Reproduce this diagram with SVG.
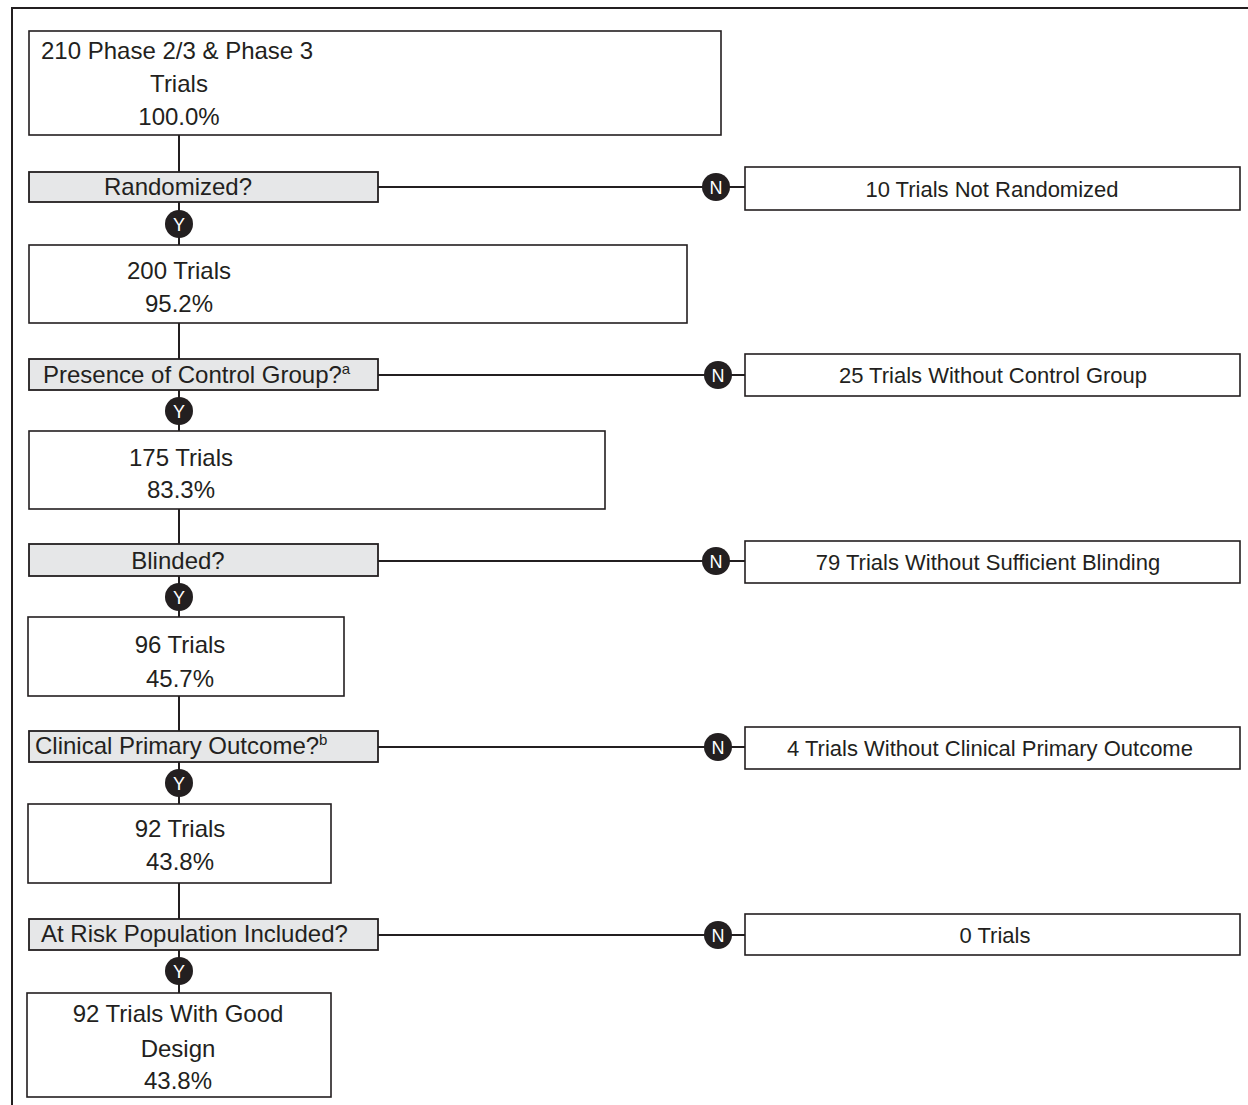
<svg xmlns="http://www.w3.org/2000/svg" width="1248" height="1105" viewBox="0 0 1248 1105">
<style>
.box{fill:#ffffff;stroke:#231f20;stroke-width:1.6}
.q{fill:#e6e7e8;stroke:#231f20;stroke-width:1.8}
.ln{stroke:#231f20;stroke-width:2;fill:none}
.dot{fill:#231f20}
.t{font-family:"Liberation Sans",Arial,sans-serif;font-size:24px;fill:#231f20}
.r{font-family:"Liberation Sans",Arial,sans-serif;font-size:22px;fill:#231f20;text-anchor:middle}
.c{text-anchor:middle}
.yn{font-family:"Liberation Sans",Arial,sans-serif;font-size:18px;fill:#ffffff;text-anchor:middle}
.sup{font-size:15px}
</style>
<rect width="1248" height="1105" fill="#ffffff"/>
<path d="M12,1105 V8 H1248" class="ln" stroke-width="2.2"/>
<g id="connectors">
<line x1="179" y1="135" x2="179" y2="993" class="ln"/>
<line x1="378" y1="187" x2="745" y2="187" class="ln"/>
<line x1="378" y1="375" x2="745" y2="375" class="ln"/>
<line x1="378" y1="561" x2="745" y2="561" class="ln"/>
<line x1="378" y1="747" x2="745" y2="747" class="ln"/>
<line x1="378" y1="935" x2="745" y2="935" class="ln"/>
</g>
<g id="n1"><rect x="29" y="31" width="692" height="104" class="box"/>
<text class="t" x="41" y="59">210 Phase 2/3 &amp; Phase 3</text>
<text class="t c" x="179" y="92">Trials</text>
<text class="t c" x="179" y="125">100.0%</text></g>
<g id="q1"><rect x="29" y="172" width="349" height="30" class="q"/>
<text class="t c" x="178" y="195">Randomized?</text></g>
<g id="n2"><rect x="29" y="245" width="658" height="78" class="box"/>
<text class="t c" x="179" y="279">200 Trials</text>
<text class="t c" x="179" y="312">95.2%</text></g>
<g id="q2"><rect x="29" y="359" width="349" height="31" class="q"/>
<text class="t" x="43" y="383">Presence of Control Group?<tspan class="sup" dy="-9">a</tspan></text></g>
<g id="n3"><rect x="29" y="431" width="576" height="78" class="box"/>
<text class="t c" x="181" y="466">175 Trials</text>
<text class="t c" x="181" y="498">83.3%</text></g>
<g id="q3"><rect x="29" y="544" width="349" height="32" class="q"/>
<text class="t c" x="178" y="569">Blinded?</text></g>
<g id="n4"><rect x="28" y="617" width="316" height="79" class="box"/>
<text class="t c" x="180" y="653">96 Trials</text>
<text class="t c" x="180" y="687">45.7%</text></g>
<g id="q4"><rect x="29" y="731" width="349" height="31" class="q"/>
<text class="t" x="35" y="754">Clinical Primary Outcome?<tspan class="sup" dy="-9">b</tspan></text></g>
<g id="n5"><rect x="28" y="804" width="303" height="79" class="box"/>
<text class="t c" x="180" y="837">92 Trials</text>
<text class="t c" x="180" y="870">43.8%</text></g>
<g id="q5"><rect x="29" y="919" width="349" height="31" class="q"/>
<text class="t" x="41" y="942">At Risk Population Included?</text></g>
<g id="n6"><rect x="27" y="993" width="304" height="104" class="box"/>
<text class="t c" x="178" y="1022">92 Trials With Good</text>
<text class="t c" x="178" y="1057">Design</text>
<text class="t c" x="178" y="1089">43.8%</text></g>
<g id="r1"><rect x="745" y="167" width="495" height="43" class="box"/><text class="r" x="992" y="197">10 Trials Not Randomized</text></g>
<g id="r2"><rect x="745" y="354" width="495" height="42" class="box"/><text class="r" x="993" y="383">25 Trials Without Control Group</text></g>
<g id="r3"><rect x="745" y="541" width="495" height="42" class="box"/><text class="r" x="988" y="570">79 Trials Without Sufficient Blinding</text></g>
<g id="r4"><rect x="745" y="727" width="495" height="42" class="box"/><text class="r" x="990" y="756">4 Trials Without Clinical Primary Outcome</text></g>
<g id="r5"><rect x="745" y="914" width="495" height="41" class="box"/><text class="r" x="995" y="943">0 Trials</text></g>
<g id="yn">
<circle cx="179" cy="224" r="14" class="dot"/><text class="yn" x="179" y="230.5">Y</text>
<circle cx="179" cy="411" r="14" class="dot"/><text class="yn" x="179" y="417.5">Y</text>
<circle cx="179" cy="597" r="14" class="dot"/><text class="yn" x="179" y="603.5">Y</text>
<circle cx="179" cy="783" r="14" class="dot"/><text class="yn" x="179" y="789.5">Y</text>
<circle cx="179" cy="971" r="14" class="dot"/><text class="yn" x="179" y="977.5">Y</text>
<circle cx="716" cy="187" r="14" class="dot"/><text class="yn" x="716" y="193.5">N</text>
<circle cx="718" cy="375" r="14" class="dot"/><text class="yn" x="718" y="381.5">N</text>
<circle cx="716" cy="561" r="14" class="dot"/><text class="yn" x="716" y="567.5">N</text>
<circle cx="718" cy="747" r="14" class="dot"/><text class="yn" x="718" y="753.5">N</text>
<circle cx="718" cy="935" r="14" class="dot"/><text class="yn" x="718" y="941.5">N</text>
</g>
</svg>
